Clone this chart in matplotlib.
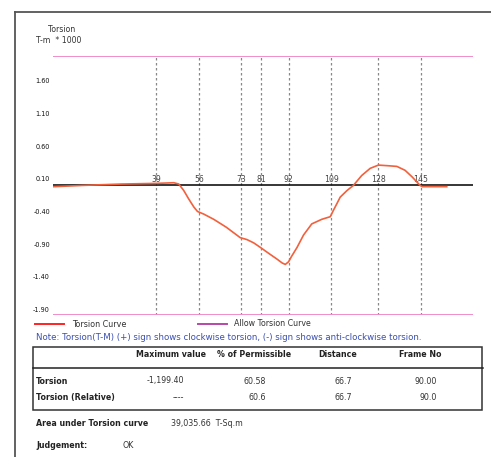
import matplotlib.pyplot as plt
from matplotlib.lines import Line2D
from matplotlib.patches import Rectangle

# Data (torsion in T-m * 1000 vs frame number)
frames = [-2.1, 10, 25, 39, 46, 48, 50, 52, 54, 55.5, 58, 62, 67, 72.6, 75.3, 78,
          80.7, 84, 87.4, 89.5, 90.7, 92, 93, 95.4, 98, 101.3, 105.3, 108.7, 110,
          111.5, 112.7, 115.4, 118, 121.3, 124.7, 128, 132, 135.4, 138.7, 141.5,
          144.7, 145.5, 150, 155.4]
torsion = [-0.02, 0.0, 0.02, 0.03, 0.04, 0.02, -0.08, -0.21, -0.33, -0.40, -0.44,
           -0.52, -0.64, -0.80, -0.83, -0.88, -0.95, -1.04, -1.13, -1.19, -1.21,
           -1.17, -1.10, -0.95, -0.76, -0.59, -0.52, -0.48, -0.38, -0.27, -0.18,
           -0.08, 0.0, 0.15, 0.26, 0.31, 0.30, 0.29, 0.23, 0.13, 0.0, -0.02, -0.02,
           -0.02]
allow = 1.98
frame_marks = [39, 56, 73, 81, 92, 109, 128, 145]
yticks = [1.60, 1.10, 0.60, 0.10, -0.40, -0.90, -1.40, -1.90]

col_headers = ["Maximum value", "% of Permissible", "Distance", "Frame No"]
row_labels = ["Torsion", "Torsion (Relative)"]
row_values = [["-1,199.40", "60.58", "66.7", "90.00"],
              ["----", "60.6", "66.7", "90.0"]]
area_text = "39,035.66  T-Sq.m"
judgement = "OK"

W, H = 491, 457


def fx(x):
    return x / W


def fy(y):
    return 1 - y / H


fig = plt.figure(figsize=(W / 100, H / 100), dpi=100)
ax = fig.add_axes([fx(53.3), fy(314.7), (472.7 - 53.3) / W, (314.7 - 56) / H])
ax.set_xlim(-2.3, 165.8)
ax.set_ylim(-allow, allow)
for s in ax.spines.values():
    s.set_visible(False)
ax.set_xticks([])
ax.set_yticks(yticks)
ax.set_yticklabels(["%.2f" % v for v in yticks], fontsize=4.7, color="#111")
ax.tick_params(axis="y", length=0, pad=2.5)

for f in frame_marks:
    ax.plot([f, f], [-allow, allow], color="#888888", lw=0.9,
            linestyle=(0, (2, 2)), zorder=1)
    ax.text(f, 0.02, str(f), ha="center", va="bottom", fontsize=5.6,
            color="#444444")

ax.axhline(allow, color="#f08cc8", lw=1.4, zorder=2)
ax.axhline(-allow, color="#f08cc8", lw=1.4, zorder=2)
ax.axhline(0, color="black", lw=1.1, zorder=2)
ax.plot(frames, torsion, color="#f2603c", lw=1.2, zorder=3)

# Outer frame
fig.add_artist(Line2D([fx(15), fx(15)], [fy(12), 0], color="#555555", lw=1.3))
fig.add_artist(Line2D([fx(15), 1], [fy(12), fy(12)], color="#555555", lw=1.3))

# Axis title
fig.text(fx(62), fy(29.5), "Torsion", ha="center", va="center", fontsize=5.6,
         color="#333")
fig.text(fx(35.7), fy(40.7), "T-m  * 1000", ha="left", va="center",
         fontsize=5.6, color="#333")

# Legend
fig.add_artist(Line2D([fx(35), fx(64)], [fy(324.3), fy(324.3)],
                      color="#ff2222", lw=1.4))
fig.text(fx(72), fy(324.5), "Torsion Curve", ha="left", va="center",
         fontsize=5.8, color="#333")
fig.add_artist(Line2D([fx(198), fx(227)], [fy(324), fy(324)],
                      color="#b848a8", lw=1.4))
fig.text(fx(234), fy(324), "Allow Torsion Curve", ha="left", va="center",
         fontsize=5.7, color="#333")
fig.text(fx(35.5), fy(337.7),
         "Note: Torsion(T-M) (+) sign shows clockwise torsion, (-) sign shows "
         "anti-clockwise torsion.",
         ha="left", va="center", fontsize=6.25, color="#3a4fb0")

# Table
fig.add_artist(Rectangle((fx(33.3), fy(410)), (481.5 - 33.3) / W,
                         (410 - 346.7) / H, fill=False, ec="#333", lw=1.1))
fig.add_artist(Line2D([fx(33.3), fx(483)], [fy(368.3), fy(368.3)],
                      color="#222", lw=1.1))
header_x = [171, 254, 337.3, 420.7]
for x, t in zip(header_x, col_headers):
    fig.text(fx(x), fy(354.7), t, ha="center", va="center", fontsize=5.7,
             fontweight="bold", color="#222")
value_right = [184, 266, 351.7, 437]
for r, (lab, vals) in enumerate(zip(row_labels, row_values)):
    y = 381 + r * 16.7
    fig.text(fx(36), fy(y), lab, ha="left", va="center", fontsize=5.7,
             fontweight="bold", color="#222")
    for x, v in zip(value_right, vals):
        fig.text(fx(x), fy(y), v, ha="right", va="center", fontsize=5.7,
                 color="#333")

fig.text(fx(36), fy(424), "Area under Torsion curve", ha="left", va="center",
         fontsize=5.7, fontweight="bold", color="#222")
fig.text(fx(170.7), fy(424), area_text, ha="left", va="center", fontsize=5.7,
         color="#333")
fig.text(fx(36), fy(445), "Judgement:", ha="left", va="center", fontsize=5.7,
         fontweight="bold", color="#222")
fig.text(fx(122.3), fy(445), judgement, ha="left", va="center", fontsize=5.7,
         color="#333")

fig.savefig("out.png", dpi=100)
